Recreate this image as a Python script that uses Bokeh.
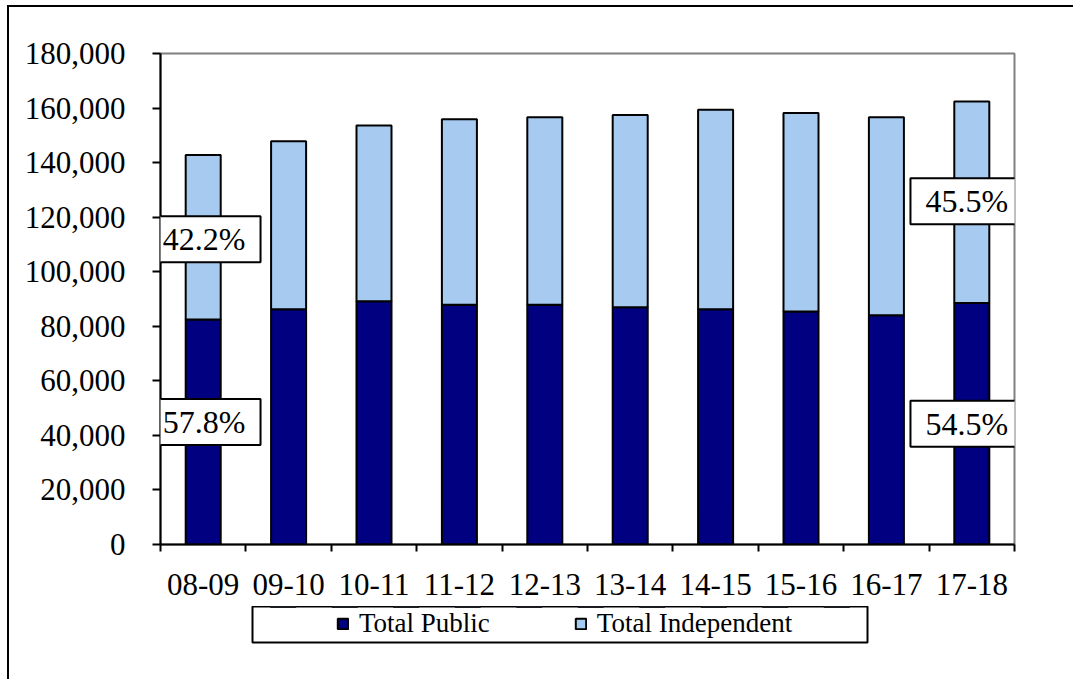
from bokeh.plotting import figure
from bokeh.layouts import column
from bokeh.models import (Range1d, FixedTicker, SingleIntervalTicker, NumeralTickFormatter,
                          Label, Legend, LegendItem, ColumnDataSource)
from bokeh.embed import file_html
from bokeh.resources import INLINE

years = ["08-09", "09-10", "10-11", "11-12", "12-13", "13-14", "14-15", "15-16", "16-17", "17-18"]
public = [82500, 86200, 89200, 87900, 87900, 87000, 86200, 85400, 84000, 88500]
independent = [60300, 61600, 64400, 68000, 68700, 70500, 73200, 72800, 72600, 73900]
series_names = ["Total Public", "Total Independent"]
colors = ["#000080", "#A6CAF0"]

FONT = "Liberation Serif"
W = 1064

xs = [i + 0.5 for i in range(len(years))]
src = ColumnDataSource(dict(x=xs, public=public, independent=independent))

p = figure(width=W, height=603, output_backend="svg", toolbar_location=None,
           x_range=Range1d(0, len(years)), y_range=Range1d(0, 180000),
           min_border_left=151, min_border_right=W - 151 - 854, min_border_top=46, min_border_bottom=66)
p.frame_align = False
p.background_fill_color = "white"
p.border_fill_color = "white"
p.outline_line_color = "#808080"
p.outline_line_width = 2
p.xgrid.visible = False
p.ygrid.visible = False

rs = p.vbar_stack(["public", "independent"], x="x", width=0.41, source=src,
                  fill_color=colors, line_color="black", line_width=2)

# y axis
ya = p.yaxis[0]
ya.ticker = SingleIntervalTicker(interval=20000, num_minor_ticks=0)
ya.formatter = NumeralTickFormatter(format="0,0")
ya.axis_line_color = "black"
ya.axis_line_width = 2
ya.major_tick_line_color = "black"
ya.major_tick_line_width = 2
ya.major_tick_out = 8
ya.major_tick_in = 0
ya.minor_tick_line_color = None
ya.major_label_text_font = FONT
ya.major_label_text_font_size = "31px"
ya.major_label_text_color = "black"
ya.major_label_standoff = 27

# x axis
xa = p.xaxis[0]
xa.ticker = FixedTicker(ticks=xs, minor_ticks=list(range(len(years) + 1)))
xa.major_label_overrides = {x: y for x, y in zip(xs, years)}
xa.axis_line_color = "black"
xa.axis_line_width = 2
xa.major_tick_line_color = None
xa.major_tick_out = 0
xa.major_tick_in = 0
xa.minor_tick_line_color = "black"
xa.minor_tick_line_width = 2
xa.minor_tick_out = 7
xa.minor_tick_in = 0
xa.major_label_text_font = FONT
xa.major_label_text_font_size = "31px"
xa.major_label_text_color = "black"
xa.major_label_standoff = 22

# percentage labels on first and last bars
def add_label(i, y, share, x_offset=0, y_offset=0):
    lab = Label(x=xs[i], y=y, text=f"{share:.1f}%", text_align="center", text_baseline="middle",
                text_font=FONT, text_font_size="32px", text_color="black",
                x_offset=x_offset, y_offset=y_offset,
                background_fill_color="white", border_line_color="black", border_line_width=2,
                padding={"left": 15, "right": 15, "top": 5, "bottom": 5})
    p.add_layout(lab)

for i, xo, yo_ind, yo_pub in [(0, 1, -2, 10), (len(years) - 1, -5, 1, 0)]:
    tot = public[i] + independent[i]
    add_label(i, public[i] + independent[i] / 2, 100 * independent[i] / tot, xo, yo_ind)
    add_label(i, public[i] / 2, 100 * public[i] / tot, xo, yo_pub)

# legend strip (its frame is the legend box); its bars lie outside its y range
p2 = figure(width=W, height=73, output_backend="svg", toolbar_location=None,
            x_range=Range1d(0, len(years)), y_range=Range1d(-2, -1),
            x_axis_location=None, y_axis_location=None,
            min_border_left=243, min_border_right=W - 243 - 615, min_border_top=0, min_border_bottom=37)
p2.frame_align = False
p2.styles = {"margin-top": "-4px"}
p2.xgrid.visible = False
p2.ygrid.visible = False
p2.outline_line_color = "black"
p2.outline_line_width = 2
p2.background_fill_color = "white"
p2.border_fill_color = None
leg_rs = p2.vbar_stack(["public", "independent"], x="x", width=0.41, source=src,
                       fill_color=colors, line_color="black", line_width=2)
legend = Legend(items=[LegendItem(label=n, renderers=[r]) for n, r in zip(series_names, leg_rs)],
                orientation="horizontal", location=(84, 3), margin=0, padding=0,
                spacing=84, label_standoff=10, glyph_width=13, glyph_height=13,
                label_text_font=FONT, label_text_font_size="27px", label_text_color="black",
                border_line_alpha=0, background_fill_alpha=0)
p2.add_layout(legend)

layout = column(p, p2, spacing=0)
layout.styles = {"margin-left": "7px", "margin-top": "5px",
                 "border-left": "2px solid black", "border-top": "2px solid black"}

open("out.html", "w").write(file_html(layout, INLINE))
